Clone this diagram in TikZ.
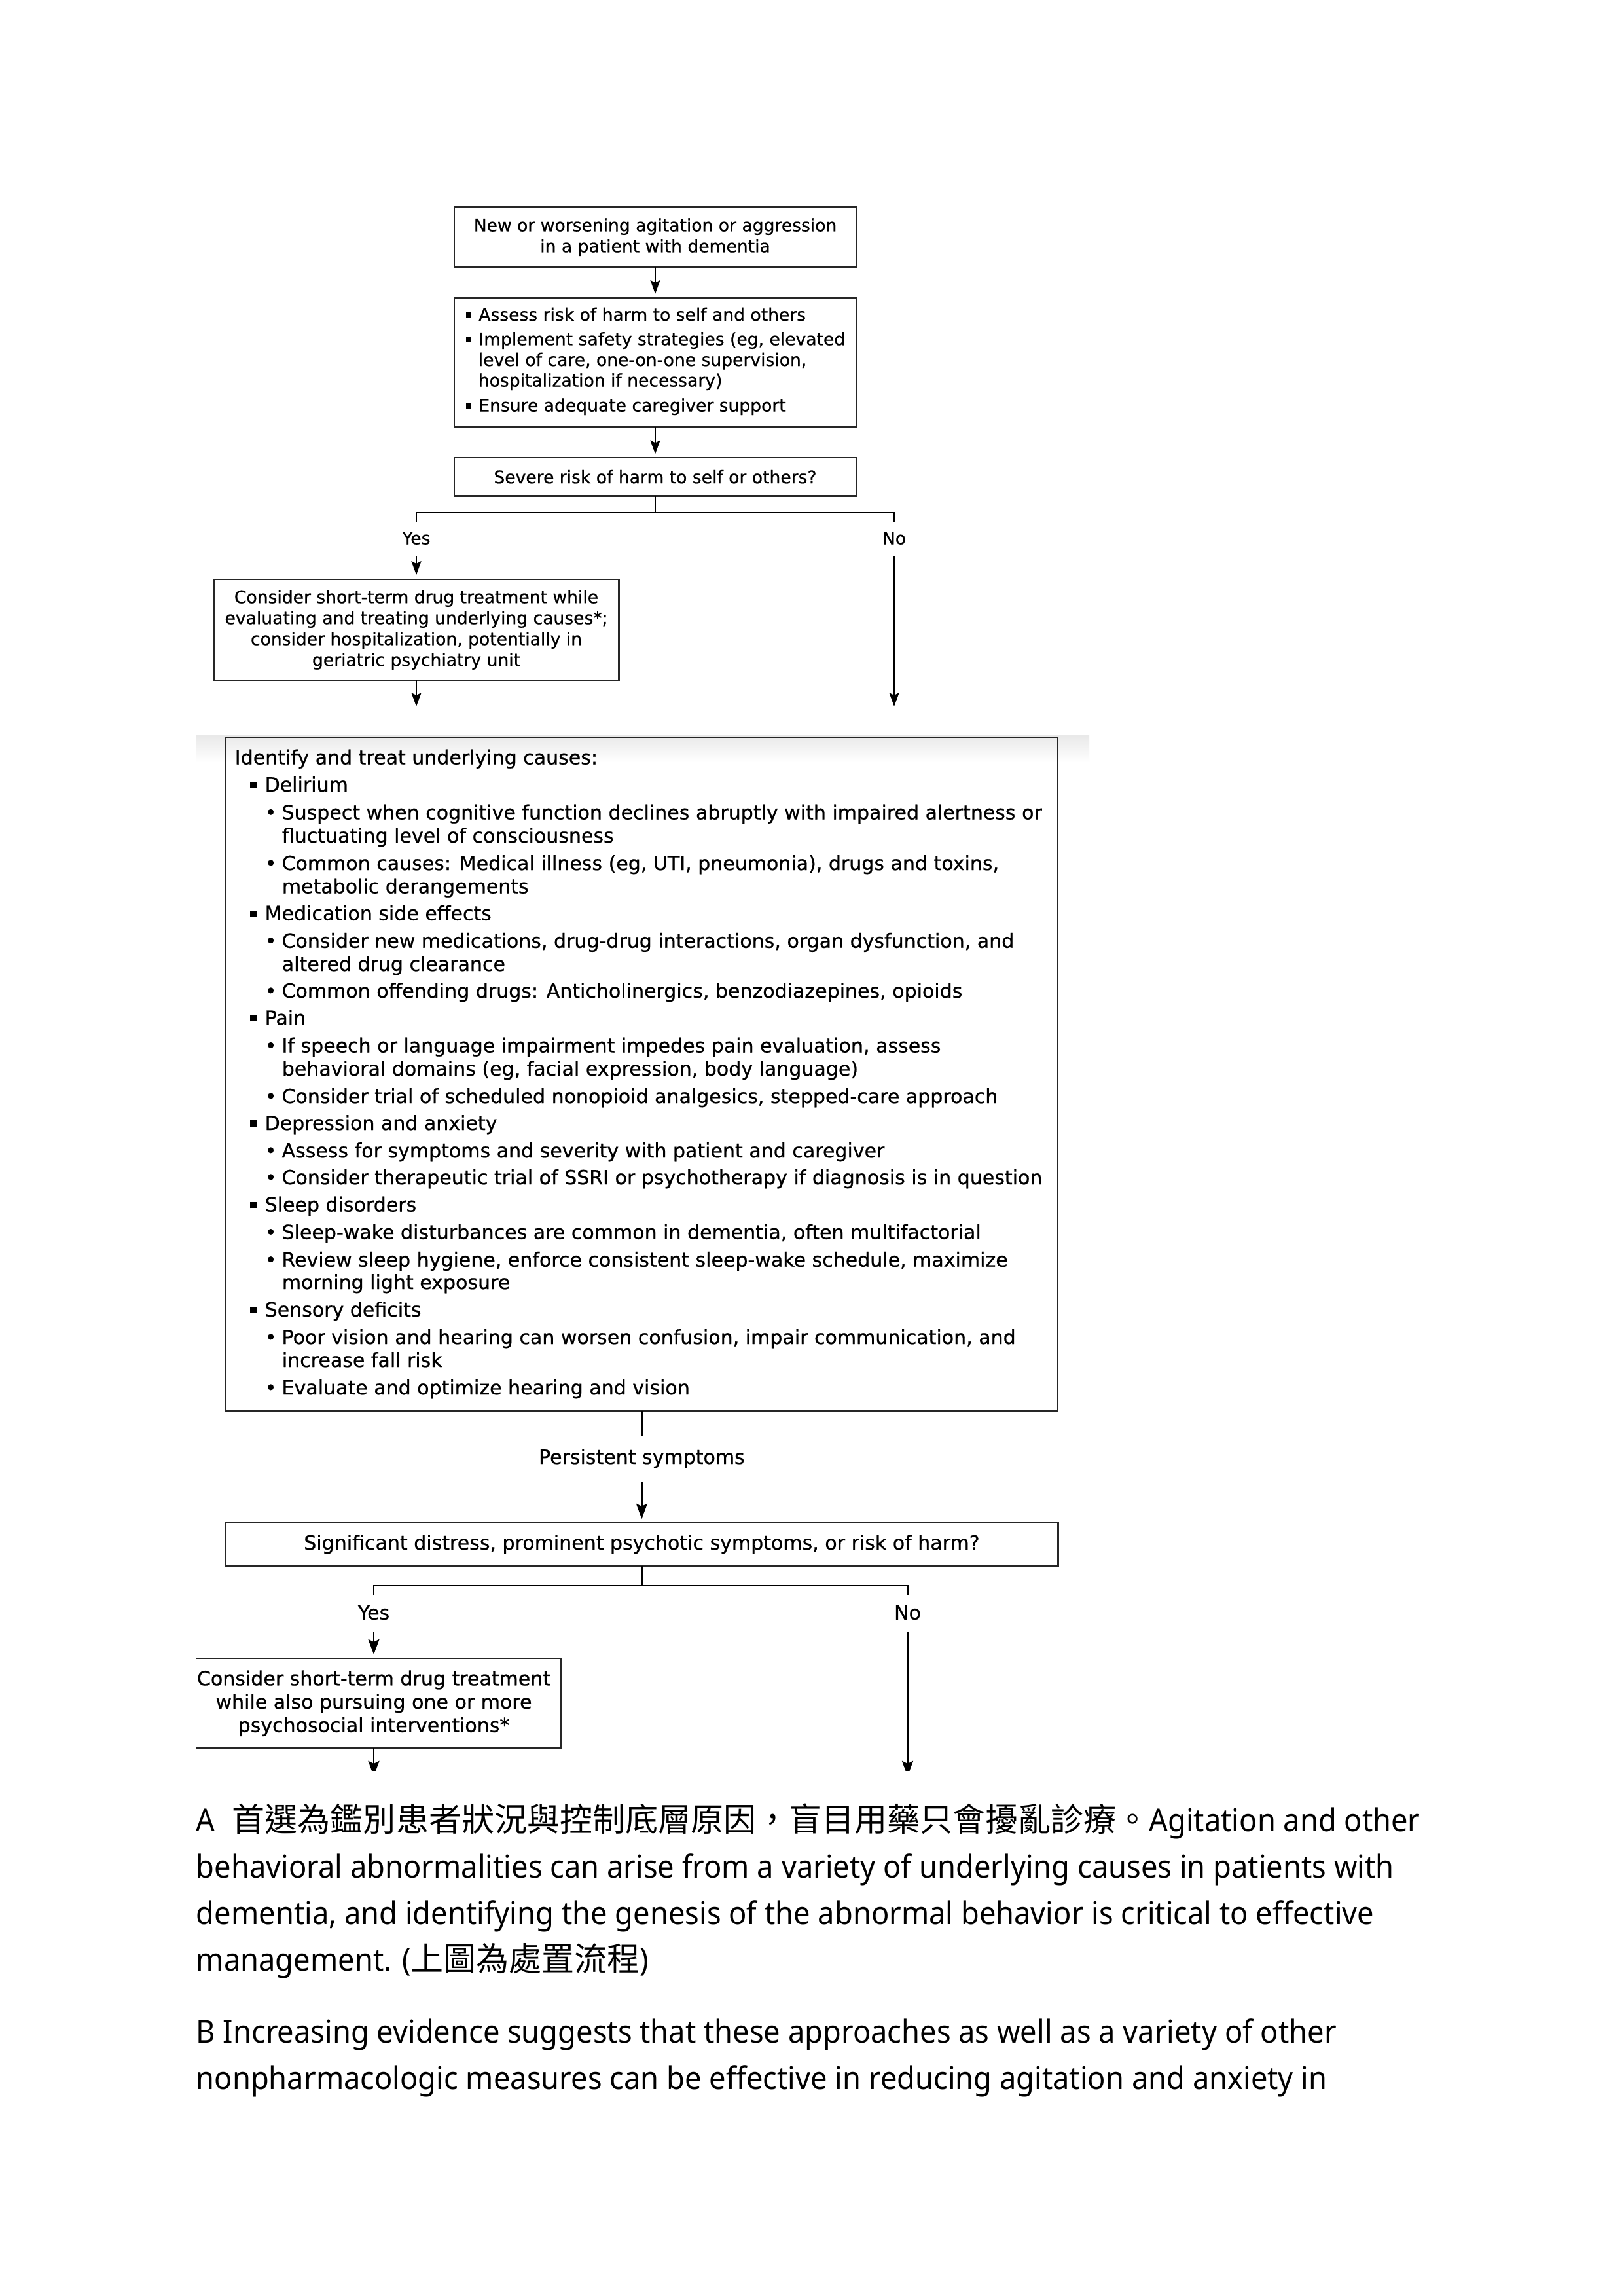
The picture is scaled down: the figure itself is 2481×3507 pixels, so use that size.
\documentclass[tikz,border=0pt]{standalone}
\usepackage{fontspec}
\usetikzlibrary{arrows.meta}
\newfontfamily\flowfont[FakeBold=0.7]{DejaVu Sans}
\newfontfamily\parafont[FakeStretch=0.94]{Noto Sans}
\newfontfamily\cjkfont{Noto Sans CJK TC}
\newcommand\pxu{0.2409pt}
\newcommand\fsA{\flowfont\fontsize{6.4pt}{7.7pt}\selectfont}
\newcommand\fsB{\flowfont\fontsize{7.23pt}{8.6pt}\selectfont}
\newcommand\fsP{\parafont\fontsize{11.6pt}{14pt}\selectfont}
\newcommand\fsC{\cjkfont\fontsize{12.05pt}{14pt}\selectfont}
\newcommand\sqA{\makebox[4.7pt][l]{\rule[1.2pt]{2.05pt}{2.05pt}}}
\newcommand\sqB{\makebox[5.5pt][l]{\rule[1.25pt]{2.35pt}{2.35pt}}}
\newcommand\rdB{\makebox[6.2pt][l]{•}}
\begin{document}
\begin{tikzpicture}[x=0.2409pt, y=-0.2409pt,
  box/.style={draw=black!85, line width=0.65pt, inner sep=0pt, outer sep=0pt, align=center},
  lnA/.style={line width=0.5pt},
  lnB/.style={line width=0.58pt},
  arrA/.style={line width=0.5pt, -{Stealth[length=5pt,width=3.6pt,inset=0.9pt]}},
  arrB/.style={line width=0.58pt, -{Stealth[length=5.6pt,width=4.1pt,inset=1pt]}},
  la/.style={anchor=base west, inner sep=0pt, font=\fsA},
  lb/.style={anchor=base west, inner sep=0pt, font=\fsB},
  lp/.style={anchor=base west, inner sep=0pt, font=\fsP}]
\useasboundingbox (0,0) rectangle (2481,3507);
\fill[white] (0,0) rectangle (2481,3507);

% ---------- top part ----------
\node[box, font=\fsA, minimum width=614*\pxu, minimum height=90.8*\pxu] (b1) at (1001,362.1)
  {New or worsening agitation or aggression\\in a patient with dementia};
\node[box, minimum width=614*\pxu, minimum height=197.2*\pxu] (b2) at (1001,553.4) {};
\node[la] (t1) at (711,490) {\sqA Assess risk of harm to self and others};
\node[la] (t2) at (711,527.4) {\sqA Implement safety strategies (eg, elevated};
\node[la] (t3) at (730,559) {level of care, one-on-one supervision,};
\node[la] (t4) at (730,590.5) {hospitalization if necessary)};
\node[la] (t5) at (711,628.6) {\sqA Ensure adequate caregiver support};
\node[box, font=\fsA, minimum width=614*\pxu, minimum height=58.4*\pxu] (b3) at (1001,728.2)
  {Severe risk of harm to self or others?};

\draw[arrA, shorten >=1.45pt] (b1.south) -- (b2.north);
\draw[arrA, shorten >=1.35pt] (b2.south) -- (b3.north);

\coordinate (j1) at (1001,783);
\coordinate (y1) at (636,797);
\coordinate (n1) at (1366,797);
\draw[lnA] (b3.south) -- (j1);
\draw[lnA] (y1) |- (j1) -| (n1);

\node[font=\fsA, inner sep=0pt] (yes1) at (636,822) {Yes};
\node[font=\fsA, inner sep=0pt] (no1) at (1366,822) {No};

\node[box, font=\fsA, minimum width=619.3*\pxu, minimum height=154*\pxu] (b4) at (636,962)
  {Consider short-term drug treatment while\\evaluating and treating underlying causes*;\\consider hospitalization, potentially in\\geriatric psychiatry unit};

\draw[arrA, shorten <=4.1pt, shorten >=1.7pt] (yes1.south) -- (b4.north);
\coordinate (e1) at (636,1079);
\coordinate (e2) at (1366,1079);
\draw[arrA] (b4.south) -- (e1);
\draw[arrA, shorten <=4.1pt] (no1.south) -- (e2);

% ---------- middle part ----------
\shade[top color=black!9, bottom color=white] (300,1122) rectangle (1664,1164);
\node[box, minimum width=1271.3*\pxu, minimum height=1028.2*\pxu] (bb) at (980.4,1640.9) {};
\node[lb] (L1) at (358,1167.5) {Identify and treat underlying causes:};
\node[lb] (L2) at (381,1209) {\sqB Delirium};
\node[lb] (L3) at (404,1251.5) {\rdB Suspect when cognitive function declines abruptly with impaired alertness or};
\node[lb] (L4) at (430,1287) {fluctuating level of consciousness};
\node[lb] (L5) at (404,1329) {\rdB Common causes: Medical illness (eg, UTI, pneumonia), drugs and toxins,};
\node[lb] (L6) at (430,1364.5) {metabolic derangements};
\node[lb] (L7) at (381,1405.6) {\sqB Medication side effects};
\node[lb] (L8) at (404,1447.7) {\rdB Consider new medications, drug-drug interactions, organ dysfunction, and};
\node[lb] (L9) at (430,1483) {altered drug clearance};
\node[lb] (L10) at (404,1524) {\rdB Common offending drugs: Anticholinergics, benzodiazepines, opioids};
\node[lb] (L11) at (381,1565.4) {\sqB Pain};
\node[lb] (L12) at (404,1607.5) {\rdB If speech or language impairment impedes pain evaluation, assess};
\node[lb] (L13) at (430,1643) {behavioral domains (eg, facial expression, body language)};
\node[lb] (L14) at (404,1685) {\rdB Consider trial of scheduled nonopioid analgesics, stepped-care approach};
\node[lb] (L15) at (381,1726) {\sqB Depression and anxiety};
\node[lb] (L16) at (404,1768) {\rdB Assess for symptoms and severity with patient and caregiver};
\node[lb] (L17) at (404,1809) {\rdB Consider therapeutic trial of SSRI or psychotherapy if diagnosis is in question};
\node[lb] (L18) at (381,1850.5) {\sqB Sleep disorders};
\node[lb] (L19) at (404,1892.6) {\rdB Sleep-wake disturbances are common in dementia, often multifactorial};
\node[lb] (L20) at (404,1934.7) {\rdB Review sleep hygiene, enforce consistent sleep-wake schedule, maximize};
\node[lb] (L21) at (430,1969) {morning light exposure};
\node[lb] (L22) at (381,2011) {\sqB Sensory deficits};
\node[lb] (L23) at (404,2053) {\rdB Poor vision and hearing can worsen confusion, impair communication, and};
\node[lb] (L24) at (430,2088) {increase fall risk};
\node[lb] (L25) at (404,2130) {\rdB Evaluate and optimize hearing and vision};

\coordinate (p1) at (980.4,2193);
\draw[lnB] (bb.south) -- (p1);
\node[font=\fsB, anchor=base, inner sep=0pt] (ps) at (980.4,2236) {Persistent symptoms};

\node[box, font=\fsB, line width=0.7pt, minimum width=1271.3*\pxu, minimum height=65.5*\pxu] (q2) at (980.4,2358.75)
  {Significant distress, prominent psychotic symptoms, or risk of harm?};
\draw[arrB, shorten <=5.1pt, shorten >=1.45pt] (ps.south) -- (q2.north);

\coordinate (j2) at (980.4,2422);
\coordinate (y2) at (571,2437);
\coordinate (n2) at (1386.5,2437);
\draw[lnB] (q2.south) -- (j2);
\draw[lnB] (y2) |- (j2) -| (n2);
\node[font=\fsB, inner sep=0pt] (yes2) at (571,2463) {Yes};
\node[font=\fsB, inner sep=0pt] (no2) at (1386.5,2463) {No};

\begin{scope}
  \clip (300,2482) rectangle (2481,2704);
  \node[box, font=\fsB, line width=0.7pt, minimum width=571*\pxu, minimum height=137.4*\pxu] (b5) at (571,2601.7)
    {Consider short-term drug treatment\\while also pursuing one or more\\psychosocial interventions*};
  \coordinate (e3) at (571,2713);
  \coordinate (e4) at (1386.5,2713);
  \draw[arrB] (b5.south) -- (e3);
  \draw[arrB, shorten <=4.3pt] (no2.south) -- (e4);
\end{scope}
\draw[arrB, shorten <=4.3pt, shorten >=1.45pt] (yes2.south) -- (b5.north);

% ---------- paragraph text ----------
\node[lp] (P1) at (299,2797) {A\hspace{6.3pt}{\fsC 首選為鑑別患者狀況與控制底層原因，盲目用藥只會擾亂診療。}Agitation and other};
\node[lp] (P2) at (299,2868) {behavioral abnormalities can arise from a variety of underlying causes in patients with};
\node[lp] (P3) at (299,2939) {dementia, and identifying the genesis of the abnormal behavior is critical to effective};
\node[lp] (P4) at (299,3010) {management. ({\fsC 上圖為處置流程})};
\node[lp] (P5) at (299,3120) {B Increasing evidence suggests that these approaches as well as a variety of other};
\node[lp] (P6) at (299,3191) {nonpharmacologic measures can be effective in reducing agitation and anxiety in};
\end{tikzpicture}
\end{document}
